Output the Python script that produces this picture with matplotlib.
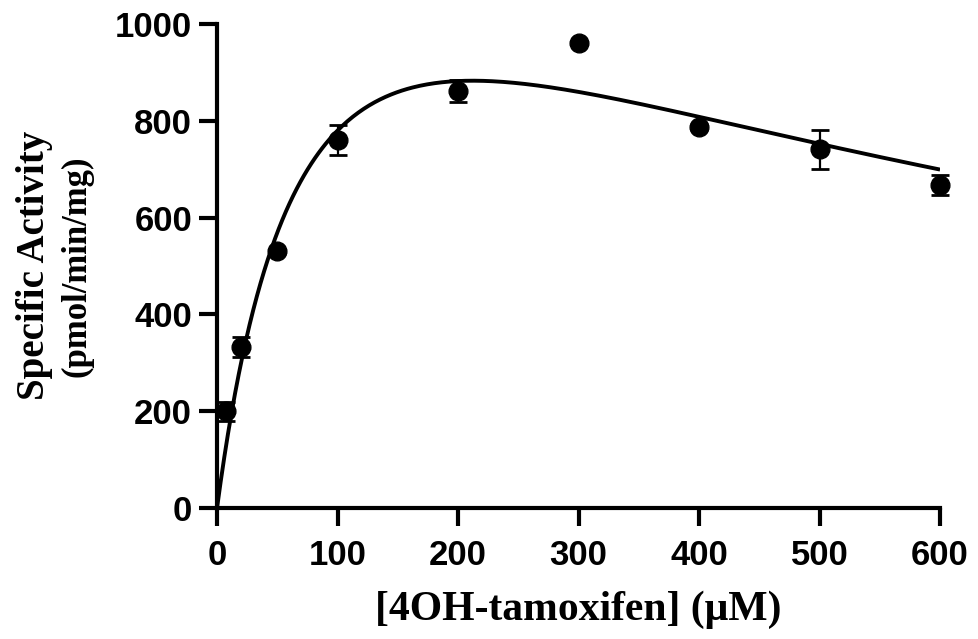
import numpy as np
import matplotlib
matplotlib.use("Agg")
import matplotlib.pyplot as plt

# 4OH-tamoxifen concentration (uM) and mean specific activity (pmol/min/mg)
conc = [7.5, 20, 50, 100, 200, 300, 400, 500, 600]
activity = [200, 333, 530, 760, 861, 960, 787, 741, 667]
activity_sd = [20, 20, 6, 31, 23, 4, 6, 40, 21]

# substrate-inhibition fit: v = Vmax*S / (Km + S + S^2/Ki)
vmax = 1590.0
km = 85.0
ki = 530.0

x_ticks = [0, 100, 200, 300, 400, 500, 600]
y_ticks = [0, 200, 400, 600, 800, 1000]

fig = plt.figure(figsize=(9.79, 6.39), dpi=100)
ax = fig.add_axes([0.2217, 0.205, 0.9602 - 0.2217, 0.9624 - 0.205])

s = np.linspace(0, 600, 400)
fit = vmax * s / (km + s + s ** 2 / ki)
ax.plot(s, fit, color="black", lw=2.8, zorder=2, solid_capstyle="butt")

ax.errorbar(conc, activity, yerr=activity_sd, fmt="o", color="black",
            markersize=13.5, elinewidth=1.6, capsize=6.5, capthick=2.0,
            zorder=3, clip_on=False)

ax.set_xlim(0, 600)
ax.set_ylim(0, 1000)
ax.set_xticks(x_ticks)
ax.set_yticks(y_ticks)

for side in ("top", "right"):
    ax.spines[side].set_visible(False)
for side in ("left", "bottom"):
    ax.spines[side].set_linewidth(3.0)
    ax.spines[side].set_capstyle("projecting")

ax.tick_params(axis="both", direction="out", length=13, width=3.0, color="black")
ax.tick_params(axis="x", pad=9)
ax.tick_params(axis="y", pad=5)
for lab in ax.get_xticklabels() + ax.get_yticklabels():
    lab.set_fontfamily("Liberation Sans")
    lab.set_fontweight("bold")
    lab.set_fontsize(25)

ax.set_xlabel("[4OH-tamoxifen] (\u03bcM)", fontfamily="Liberation Serif",
              fontweight="bold", fontsize=30, labelpad=14)

fig.text(35 / 979, 1 - 265 / 639, "Specific Activity", rotation=90,
         ha="center", va="center", fontfamily="Liberation Serif",
         fontweight="bold", fontsize=28)
fig.text(77 / 979, 1 - 266 / 639, "(pmol/min/mg)", rotation=90,
         ha="center", va="center", fontfamily="Liberation Serif",
         fontweight="bold", fontsize=25)

fig.savefig("out.png", dpi=100)
